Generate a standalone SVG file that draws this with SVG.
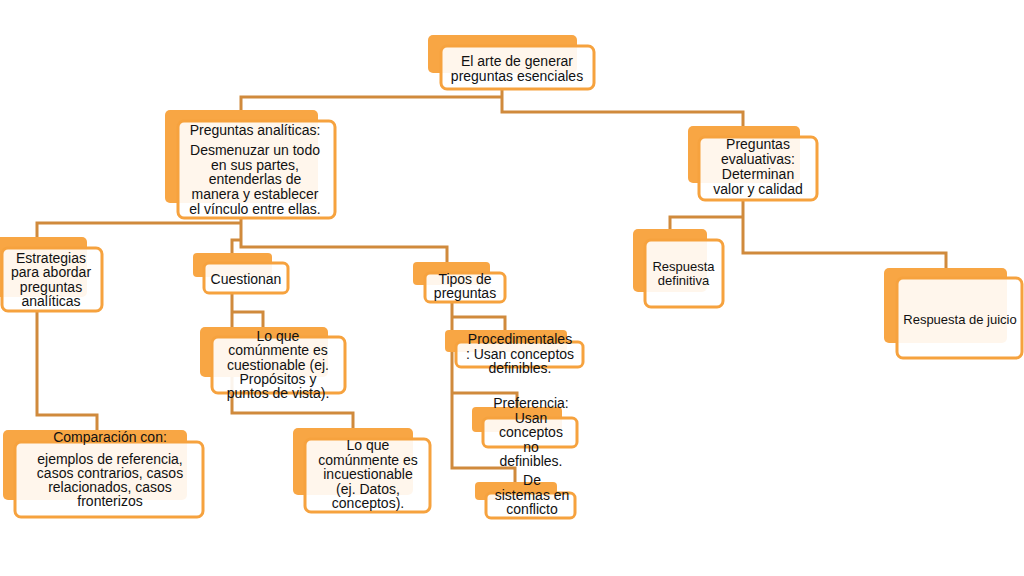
<svg xmlns="http://www.w3.org/2000/svg" width="1024" height="576" viewBox="0 0 1024 576">
<style>
.bk{fill:#F8A644;}
.fr{fill:#FFFFFF;fill-opacity:0.9;stroke:#F6A23E;stroke-width:3;}
.c{fill:none;stroke:#D08A3C;stroke-width:3;}
text{font-family:"Liberation Sans",Arial,sans-serif;font-size:14px;fill:#111;text-anchor:middle;}
.s{font-size:13px;}
</style>
<rect width="1024" height="576" fill="#FFFFFF"/>
<g id="connectors">
<polyline class="c" points="502,89 502,112 743,112 743,126"/>
<polyline class="c" points="502,97 241,97 241,110"/>
<polyline class="c" points="241,218 241,247 447,247 447,262"/>
<polyline class="c" points="241,223 37,223 37,237"/>
<polyline class="c" points="241,240 232,240 232,255"/>
<polyline class="c" points="37,311 37,415 97,415 97,430"/>
<polyline class="c" points="232,293 232,413 353,413 353,428"/>
<polyline class="c" points="232,312 263,312 263,327"/>
<polyline class="c" points="452,302 452,468 515,468 515,482"/>
<polyline class="c" points="452,317 505,317 505,330"/>
<polyline class="c" points="452,393 517,393 517,407"/>
<polyline class="c" points="743,200 743,253 946,253 946,268"/>
<polyline class="c" points="743,217 670,217 670,229"/>
</g>
<g id="n-root">
<rect class="bk" x="428" y="35" width="149" height="38" rx="5"/>
<rect class="fr" x="441" y="46" width="153" height="43" rx="6"/>
<text x="517" y="66">El arte de generar</text>
<text x="517" y="81">preguntas esenciales</text>
</g>
<g id="n-analiticas">
<rect class="bk" x="165" y="110" width="153" height="93" rx="5"/>
<rect class="fr" x="178" y="121" width="157" height="97" rx="6"/>
<text x="255" y="135">Preguntas analíticas:</text>
<text x="255" y="155">Desmenuzar un todo</text>
<text x="255" y="169.7">en sus partes,</text>
<text x="255" y="184.4">entenderlas de</text>
<text x="255" y="199.1">manera y establecer</text>
<text x="255" y="213.8">el vínculo entre ellas.</text>
</g>
<g id="n-evaluativas">
<rect class="bk" x="688" y="126" width="112" height="57" rx="5"/>
<rect class="fr" x="699" y="137" width="118" height="63" rx="6"/>
<text x="758" y="149">Preguntas</text>
<text x="758" y="164">evaluativas:</text>
<text x="758" y="179">Determinan</text>
<text x="758" y="194">valor y calidad</text>
</g>
<g id="n-estrategias">
<rect class="bk" x="-4" y="237" width="91" height="60" rx="5"/>
<rect class="fr" x="2" y="248" width="100" height="63" rx="6"/>
<text x="51" y="262.7">Estrategias</text>
<text x="51" y="277.1">para abordar</text>
<text x="51" y="291.5">preguntas</text>
<text x="51" y="306">analíticas</text>
</g>
<g id="n-cuestionan">
<rect class="bk" x="193" y="253" width="79" height="24" rx="4"/>
<rect class="fr" x="204" y="263" width="84" height="30" rx="5"/>
<text x="246" y="284">Cuestionan</text>
</g>
<g id="n-cuestionable">
<rect class="bk" x="200" y="327" width="128" height="50" rx="5"/>
<rect class="fr" x="212" y="337" width="133" height="56" rx="6"/>
<text x="278" y="341">Lo que</text>
<text x="278" y="355.3">comúnmente es</text>
<text x="278" y="369.6">cuestionable (ej.</text>
<text x="278" y="383.9">Propósitos y</text>
<text x="278" y="398.2">puntos de vista).</text>
</g>
<g id="n-incuestionable">
<rect class="bk" x="293" y="428" width="120" height="67" rx="5"/>
<rect class="fr" x="305" y="439" width="125" height="73" rx="6"/>
<text x="368" y="450">Lo que</text>
<text x="368" y="464.5">comúnmente es</text>
<text x="368" y="479">incuestionable</text>
<text x="368" y="493.5">(ej. Datos,</text>
<text x="368" y="508">conceptos).</text>
</g>
<g id="n-comparacion">
<rect class="bk" x="3" y="430" width="184" height="70" rx="5"/>
<rect class="fr" x="15" y="442" width="188" height="75" rx="6"/>
<text x="110" y="441.7">Comparación con:</text>
<text x="110" y="464">ejemplos de referencia,</text>
<text x="110" y="478">casos contrarios, casos</text>
<text x="110" y="492">relacionados, casos</text>
<text x="110" y="506">fronterizos</text>
</g>
<g id="n-tipos">
<rect class="bk" x="413" y="262" width="77" height="23" rx="4"/>
<rect class="fr" x="425" y="273" width="80" height="29" rx="5"/>
<text x="465" y="284">Tipos de</text>
<text x="465" y="298">preguntas</text>
</g>
<g id="n-procedimentales">
<rect class="bk" x="445" y="330" width="122" height="22" rx="4"/>
<rect class="fr" x="456" y="342" width="127" height="25" rx="5"/>
<text x="520" y="344">Procedimentales</text>
<text x="520" y="359">: Usan conceptos</text>
<text x="520" y="373">definibles.</text>
</g>
<g id="n-preferencia">
<rect class="bk" x="472" y="407" width="90" height="25" rx="4"/>
<rect class="fr" x="483" y="418" width="94" height="29" rx="5"/>
<text x="531" y="408">Preferencia:</text>
<text x="531" y="422.5">Usan</text>
<text x="531" y="437">conceptos</text>
<text x="531" y="451.5">no</text>
<text x="531" y="466">definibles.</text>
</g>
<g id="n-sistemas">
<rect class="bk" x="475" y="482" width="82" height="18" rx="4"/>
<rect class="fr" x="486" y="493" width="89" height="25" rx="5"/>
<text x="532" y="485">De</text>
<text x="532" y="500">sistemas en</text>
<text x="532" y="514">conflicto</text>
</g>
<g id="n-definitiva">
<rect class="bk" x="633" y="229" width="74" height="63" rx="5"/>
<rect class="fr" x="645" y="240" width="78" height="67" rx="6"/>
<text class="s" x="683.5" y="271">Respuesta</text>
<text class="s" x="683.5" y="285">definitiva</text>
</g>
<g id="n-juicio">
<rect class="bk" x="884" y="268" width="123" height="75" rx="5"/>
<rect class="fr" x="897" y="278" width="125" height="80" rx="6"/>
<text class="s" x="960" y="324">Respuesta de juicio</text>
</g>
</svg>
